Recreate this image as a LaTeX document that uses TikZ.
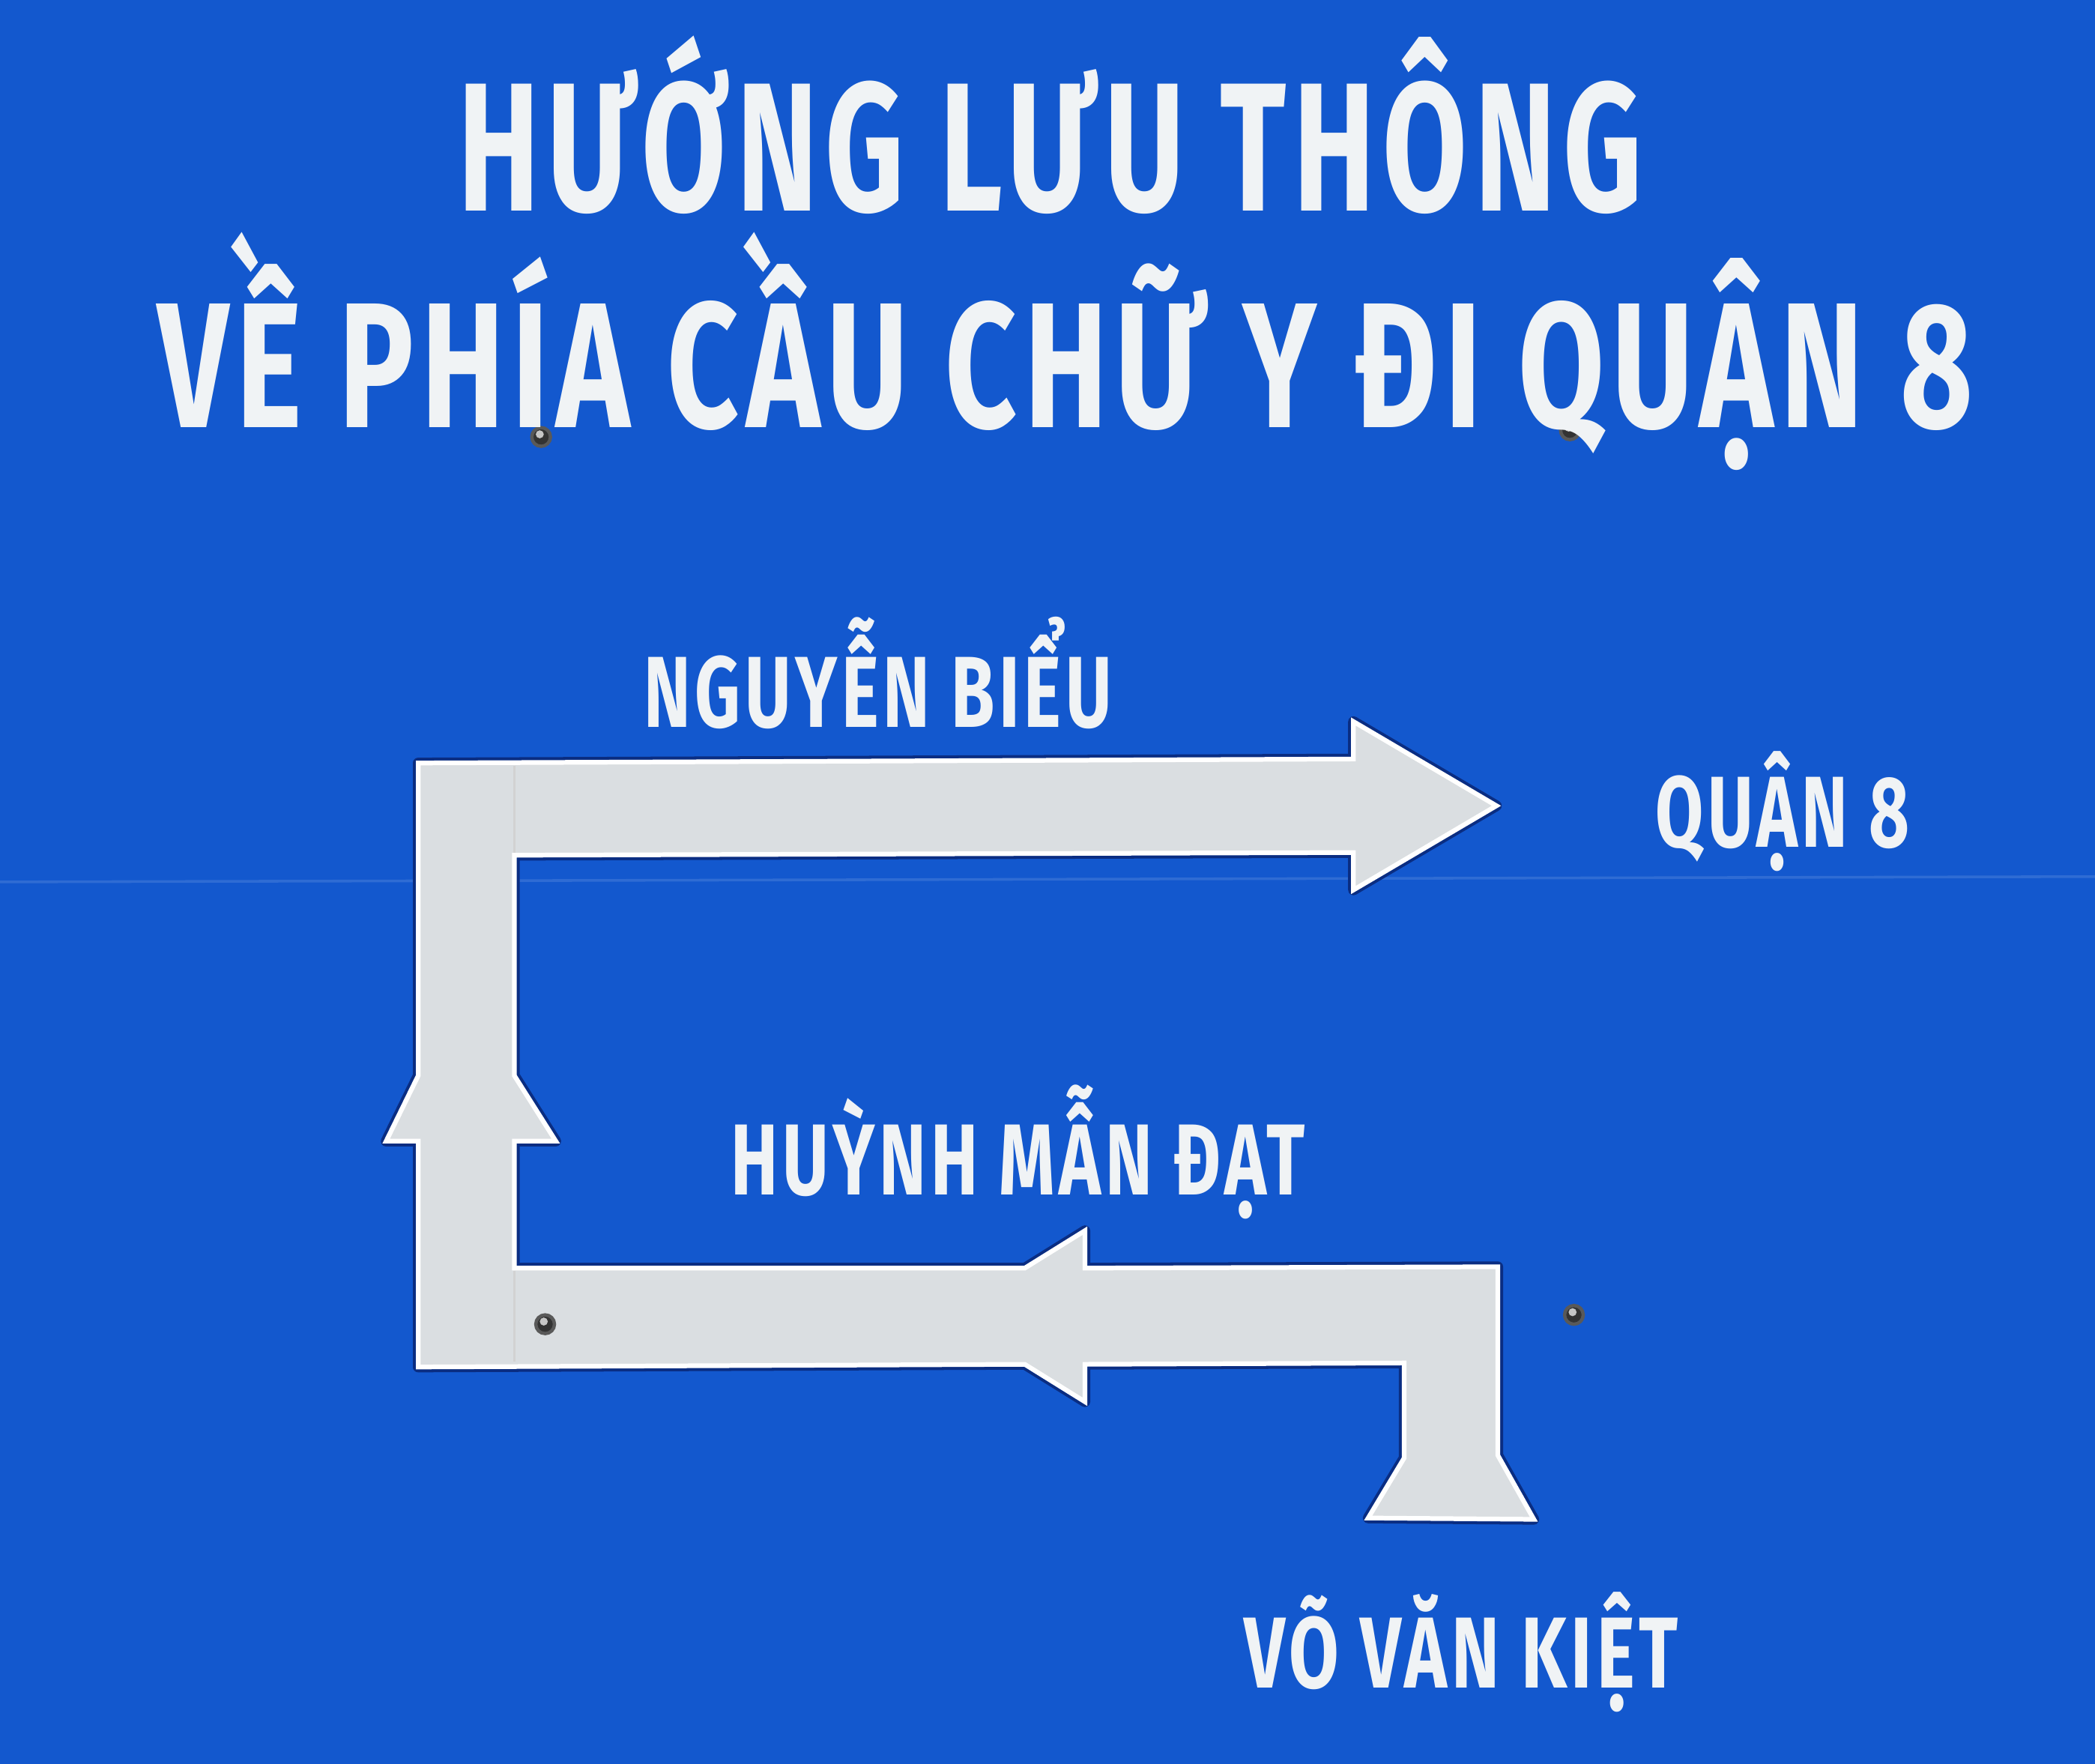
\documentclass[tikz,border=0pt]{standalone}
\usepackage{fontspec}
\usepackage{graphicx}
\usepackage{xcolor}
\newfontfamily\signfont{Fira Sans Bold}[LetterSpace=6]

\definecolor{signblue}{RGB}{19,88,206}
\definecolor{signshade}{RGB}{10,45,130}
\definecolor{signwhite}{RGB}{240,243,245}
\definecolor{arrowgray}{RGB}{218,222,225}

% text squeezed to the width it has on the sign
\newcommand{\signlabel}[3]{\resizebox{#1}{\height}{\signfont\fontsize{#2}{#2}\selectfont #3}}

\begin{document}
\begin{tikzpicture}[x=0.1mm,y=-0.1mm]
      \tikzstyle{every node}=[inner sep=0pt,outer sep=0pt,text=signwhite,anchor=base west]
      \tikzstyle{bolt}=[fill=black!80,draw=gray!70!black,line width=0.25mm]
      \tikzstyle{routeshape}=[draw=white,line width=0.35mm,fill=arrowgray,
                              preaction={draw=signshade,line width=0.8mm,line join=round}]

      \fill[signblue] (0,0) rectangle (1568,1320);
      \useasboundingbox (0,0) rectangle (1568,1320);
      \draw[signblue!88!white,line width=0.2mm] (0,660) -- (1568,656);

      % route: Vo Van Kiet -> Huynh Man Dat -> Nguyen Bieu -> Quan 8
      \draw[routeshape] (313,571) -- (1013,568) -- (1013,540) -- (1120,603) -- (1013,666)
            -- (1013,638) -- (385,640) -- (385,805) -- (416,854) -- (385,854)
            -- (385,949) -- (767,949) -- (812,921) -- (812,949) -- (1121,948)
            -- (1121,1089) -- (1148,1137) -- (1024,1136) -- (1051,1091) -- (1051,1020)
            -- (812,1021) -- (812,1049) -- (767,1021) -- (313,1023) -- (313,854)
            -- (289,854) -- (313,805) -- cycle;
      \draw[gray!35,line width=0.2mm] (385,573) -- (385,638);
      \draw[gray!35,line width=0.2mm] (385,951) -- (385,1019);

      \foreach \bx/\by in {405/327, 1175/322, 408/991, 1178/984}
      {
        \filldraw[bolt] (\bx,\by) circle[radius=7];
        \fill[gray!45] (\bx-1,\by-2) circle[radius=3];
      }

      \node (title1) at (343,158)  {\signlabel{88.6mm}{39pt}{HƯỚNG LƯU THÔNG}};
      \node (title2) at (118,320)  {\signlabel{135.9mm}{38pt}{VỀ PHÍA CẦU CHỮ Y ĐI QUẬN 8}};
      \node (nguyen) at (482,544)  {\signlabel{35.0mm}{21.5pt}{NGUYỄN BIỂU}};
      \node (quan)   at (1239,634) {\signlabel{19.0mm}{21.5pt}{QUẬN 8}};
      \node (huynh)  at (547,894)  {\signlabel{43.0mm}{21.5pt}{HUỲNH MẪN ĐẠT}};
      \node (vvk)    at (931,1263) {\signlabel{32.5mm}{21.5pt}{VÕ VĂN KIỆT}};
\end{tikzpicture}
\end{document}
